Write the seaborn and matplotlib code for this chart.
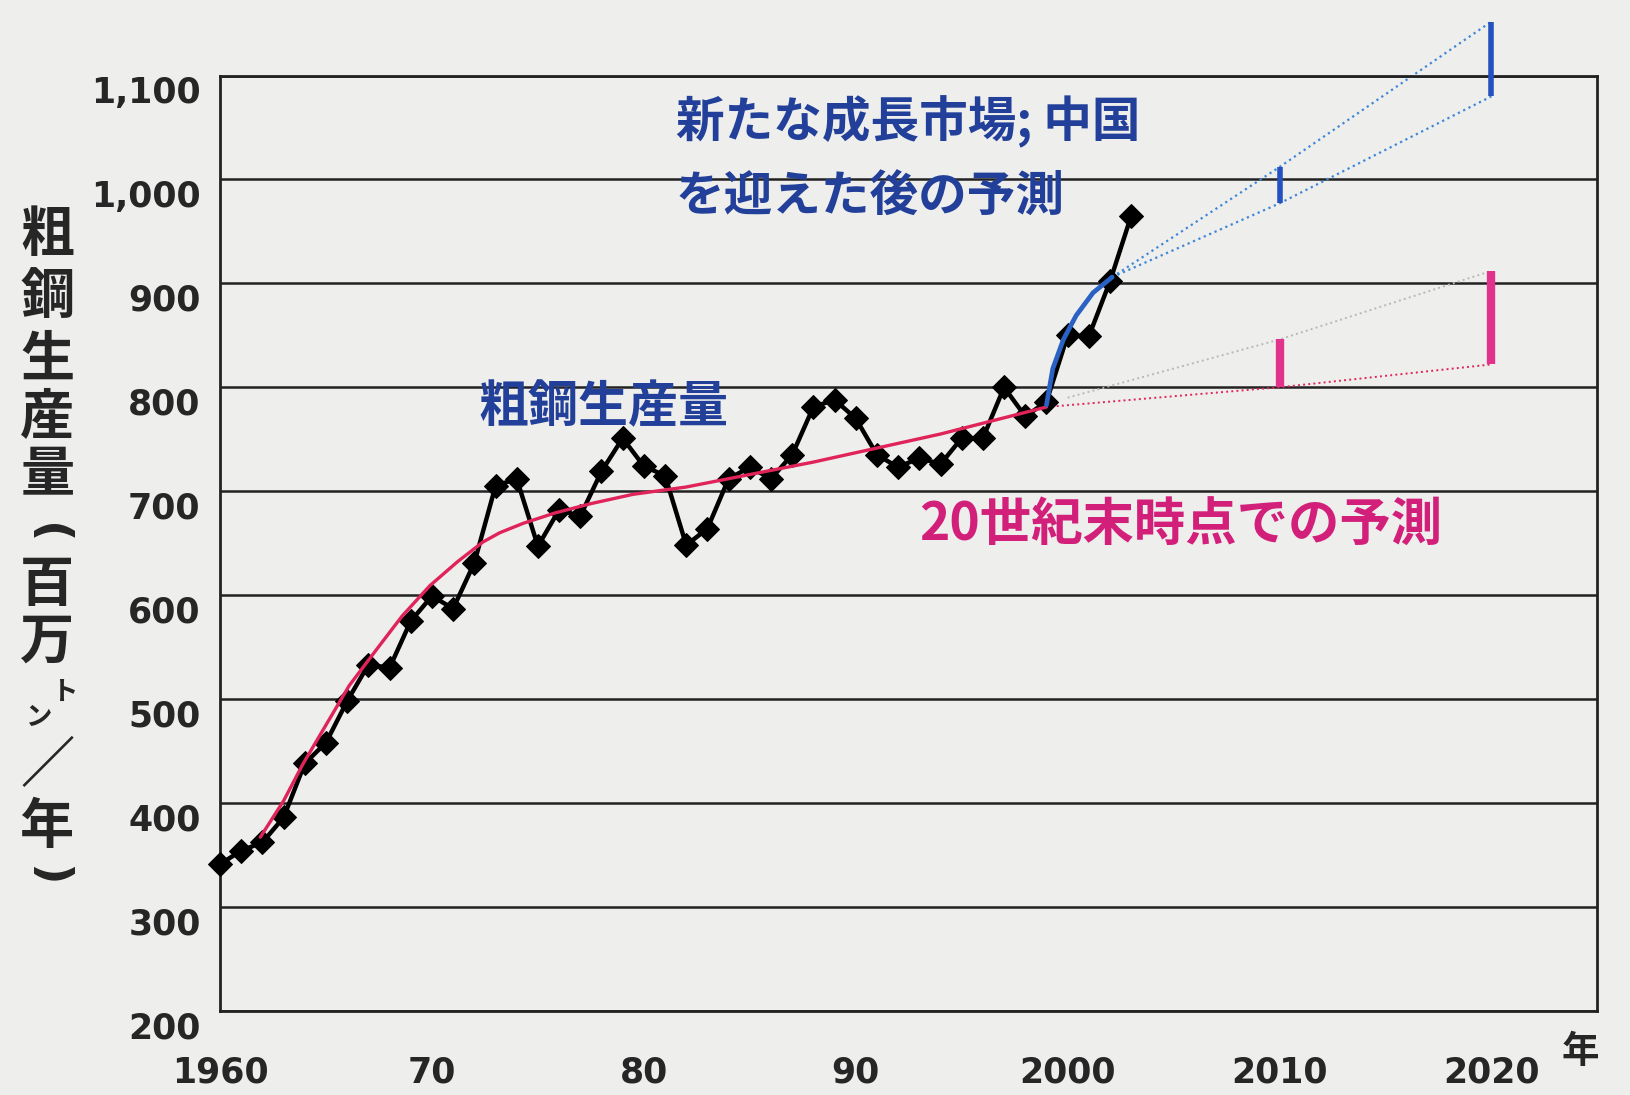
import matplotlib
matplotlib.use("Agg")
import matplotlib.pyplot as plt
import matplotlib.transforms as mtransforms
import pandas as pd
import seaborn as sns

# crude steel production, million t / year
years = list(range(1960, 2004))
production = [341, 354, 362, 386, 438, 458, 498, 533, 530, 575,
              599, 587, 631, 705, 712, 647, 682, 676, 719, 751,
              724, 715, 648, 664, 712, 723, 712, 735, 781, 788,
              770, 735, 723, 732, 726, 751, 751, 800, 772, 786,
              850, 849, 902, 965]

# forecast made at end of 20th century (red trend)
trend_years = [1961.9, 1963.0, 1963.9, 1965.0, 1966.1, 1967.4, 1968.6, 1969.9,
               1971.2, 1972.4, 1973.2, 1974.3, 1975.8, 1977.5, 1979.5, 1982, 1988, 1994, 1999]
trend_values = [367, 402, 437, 475, 513, 548, 580, 609,
                632, 651, 660, 669, 679, 688, 697, 704, 728, 755, 781]
old_fc_years = [1999, 2010, 2020]
old_fc_low = [781, 800, 822]
old_fc_high_years = [2000, 2010, 2020]
old_fc_high = [790, 846, 912]

# forecast after China growth (blue)
china_years = [1999.0, 1999.3, 1999.8, 2000.4, 2001.2, 2002.1]
china_values = [783, 818, 846, 869, 891, 906]
new_fc_years = [2002.1, 2010, 2020]
new_fc_low = [906, 977, 1080]
new_fc_high = [906, 1012, 1152]

bar_years = [2010, 2020]

yticks = [200, 300, 400, 500, 600, 700, 800, 900, 1000, 1100]
ytick_labels = ["200", "300", "400", "500", "600", "700", "800", "900", "1,000", "1,100"]
xticks = [1960, 1970, 1980, 1990, 2000, 2010, 2020]
xtick_labels = ["1960", "70", "80", "90", "2000", "2010", "2020"]

sns.set_style("white")
plt.rcParams['font.family'] = ['Noto Sans CJK JP', 'DejaVu Sans']

bg = "#eeeeec"
fig = plt.figure(figsize=(16.3, 10.95), dpi=100, facecolor=bg)
ax = fig.add_axes([0.135, 0.077, 0.845, 0.854])
ax.set_facecolor(bg)

red = "#e0245a"
pink = "#e2338c"
blue = "#2a62c4"
darkblue = "#22409a"

for v in yticks:
    ax.axhline(v, color="#222222", lw=1.8, zorder=1)

# forecast lines
ax.plot(old_fc_years, old_fc_low, ls=":", color=red, lw=1.4, zorder=2)
ax.plot(old_fc_high_years, old_fc_high, ls=":", color="#b8b8b8", lw=1.4, zorder=2)
ax.plot(new_fc_years, new_fc_low, ls=":", color="#3f86d8", lw=1.6, zorder=2, clip_on=False)
ax.plot(new_fc_years, new_fc_high, ls=":", color="#3f86d8", lw=1.6, zorder=2, clip_on=False)
ax.vlines(bar_years, old_fc_low[1:], old_fc_high[1:], color=pink, lw=6, zorder=3)
ax.vlines(bar_years, new_fc_low[1:], new_fc_high[1:], color="#2450c0", lw=4, zorder=3, clip_on=False)

df = pd.DataFrame({"year": years, "production": production})
sns.lineplot(data=df, x="year", y="production", ax=ax, color="black", lw=3.2,
             marker="D", markersize=12, markeredgecolor="black", zorder=4, clip_on=False)
sns.lineplot(x=trend_years, y=trend_values, ax=ax, color=red, lw=2.4, zorder=5)
sns.lineplot(x=china_years, y=china_values, ax=ax, color=blue, lw=3.4, zorder=5)

ax.set_xlim(1960, 2025)
ax.set_ylim(200, 1100)
ax.set_xlabel("")
ax.set_ylabel("")

for s in ax.spines.values():
    s.set_color("#222222")
    s.set_linewidth(2)

ax.set_yticks(yticks)
ax.set_yticklabels(ytick_labels)
ax.set_xticks(xticks)
ax.set_xticklabels(xtick_labels)
ax.tick_params(axis="y", length=0, pad=14)
ax.tick_params(axis="x", direction="in", length=12, width=1.2, pad=32)
tick_font = dict(family=["Liberation Sans Narrow", "DejaVu Sans"], weight="bold", size=25)
for lab in ax.get_yticklabels() + ax.get_xticklabels():
    lab.set(**tick_font)
off = mtransforms.ScaledTranslation(0, -10 / 72, fig.dpi_scale_trans)
for lab in ax.get_yticklabels():
    lab.set_transform(lab.get_transform() + off)

fig.text(0.958, 0.022, "年", fontsize=27, fontweight="bold", ha="left", va="bottom")

# annotations
ax.text(1981.5, 1056, "新たな成長市場; 中国", color=darkblue, fontsize=35,
        fontweight="bold", ha="left", va="center")
ax.text(1981.5, 983, "を迎えた後の予測", color=darkblue, fontsize=35,
        fontweight="bold", ha="left", va="center")
ax.text(1972.2, 780, "粗鋼生産量", color=darkblue, fontsize=36,
        fontweight="bold", ha="left", va="center")
ax.text(1993.0, 667, "20世紀末時点での予測", color="#d2207a", fontsize=37,
        fontweight="bold", ha="left", va="center")

# vertical y-axis label
label_chars = ["粗", "鋼", "生", "産", "量", "百", "万", "／", "年"]
label_y = [236, 298, 360, 418, 476, 585, 642, 767, 827]
for ch, yp in zip(label_chars, label_y):
    fig.text(0.029, 1 - yp / 1095, ch, fontsize=39, fontweight="bold",
             ha="center", va="center")
fig.text(0.029, 1 - 534 / 1095, "(", fontsize=34, fontweight="bold", rotation=-90,
         ha="center", va="center", family="DejaVu Sans")
fig.text(0.029, 1 - 876 / 1095, ")", fontsize=34, fontweight="bold", rotation=-90,
         ha="center", va="center", family="DejaVu Sans")
fig.text(0.040, 1 - 692 / 1095, "ト", fontsize=19, fontweight="bold", ha="center", va="center")
fig.text(0.024, 1 - 718 / 1095, "ン", fontsize=19, fontweight="bold", ha="center", va="center")

fig.savefig("out.png", dpi=100, facecolor=bg)
